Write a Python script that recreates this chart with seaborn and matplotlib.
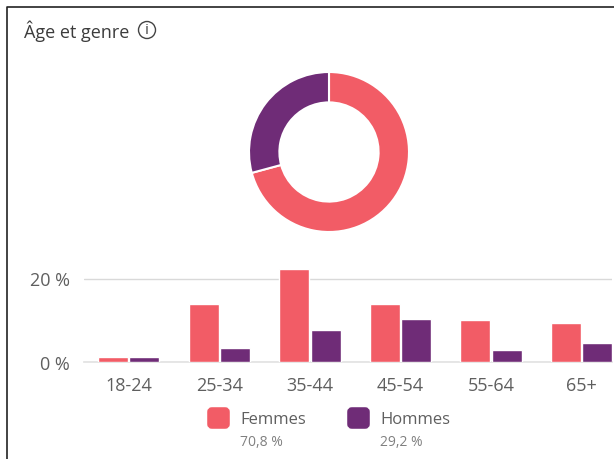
import matplotlib
matplotlib.use("Agg")
import matplotlib.pyplot as plt
from matplotlib.patches import Circle, FancyBboxPatch
import pandas as pd
import seaborn as sns

ages = ["18-24", "25-34", "35-44", "45-54", "55-64", "65+"]
femmes = [1.3, 13.8, 22.2, 13.8, 10.1, 9.3]
hommes = [1.3, 3.3, 7.7, 10.2, 2.8, 4.5]
genres = ["Femmes", "Hommes"]
parts = [70.8, 29.2]
parts_labels = ["70,8 %", "29,2 %"]
yticks = [0, 20]
ytick_labels = ["0 %", "20 %"]
title = "Âge et genre"
ROSE = "#F25C66"
VIOLET = "#6F2C77"
GREY = "#5f5f5f"

sns.set_theme(style="white")
plt.rcParams["font.family"] = ["Open Sans", "DejaVu Sans"]

W, H = 614, 460
fig = plt.figure(figsize=(W / 100, H / 100), dpi=100)


def box(x0, y0, x1, y1):
    return [x0 / W, 1 - y1 / H, (x1 - x0) / W, (y1 - y0) / H]


# Bars: 0 % baseline at y=363, 20 % at y=279.5
ax = fig.add_axes(box(83.5, 262, 611.5, 363))
df = pd.DataFrame({
    "age": ages * 2,
    "genre": [genres[0]] * len(ages) + [genres[1]] * len(ages),
    "valeur": femmes + hommes,
})
sns.barplot(data=df, x="age", y="valeur", hue="genre", hue_order=genres,
            palette=[ROSE, VIOLET], width=0.69, gap=0.04, legend=False,
            saturation=1, ax=ax, zorder=3)
ax.set_xlim(-0.5, 5.33)
ax.set_ylim(0, 20 * 101 / 83.5)
ax.set_xlabel("")
ax.set_ylabel("")
ax.set_yticks(yticks, ytick_labels)
ax.tick_params(axis="both", length=0, labelsize=13, labelcolor=GREY)
ax.tick_params(axis="x", pad=10)
ax.tick_params(axis="y", pad=10)
ax.grid(axis="y", color="#d9d9d9", linewidth=1)
ax.set_axisbelow(True)
for s in ["top", "right", "left"]:
    ax.spines[s].set_visible(False)
ax.spines["bottom"].set_color("#e3e3e3")

# Donut
ax2 = fig.add_axes(box(247, 71, 411, 235))
ax2.pie(parts, colors=[ROSE, VIOLET], startangle=90, counterclock=False,
        radius=1, wedgeprops=dict(width=0.38, edgecolor="white", linewidth=1.5))
ax2.set_xlim(-1.025, 1.025)
ax2.set_ylim(-1.025, 1.025)

# Overlay in pixel coordinates: frame, title, icon, legend
ov = fig.add_axes([0, 0, 1, 1], zorder=5)
ov.set_xlim(0, W)
ov.set_ylim(H, 0)
ov.axis("off")
ov.plot([7, 7, W], [H, 8, 8], color="#222222", linewidth=1.2, solid_capstyle="butt")
ov.text(24, 31, title, fontsize=13, color="#3c3c3c", va="center", ha="left")
ov.add_patch(Circle((147, 31), 8.5, fill=False, edgecolor="#444444", linewidth=1))
ov.text(147, 31, "i", fontsize=11, color="#444444", va="center", ha="center")
for x, name, label, color in zip([208, 348], genres, parts_labels, [ROSE, VIOLET]):
    ov.add_patch(FancyBboxPatch((x + 2, 411), 17, 16, boxstyle="round,pad=0,rounding_size=2",
                                facecolor=color, edgecolor=color, linewidth=4))
    ov.text(x + 32, 420, name, fontsize=12, color=GREY, va="center", ha="left")
    ov.text(x + 32, 443, label, fontsize=10, color="#808080", va="center", ha="left")

fig.savefig("out.png", dpi=100)
